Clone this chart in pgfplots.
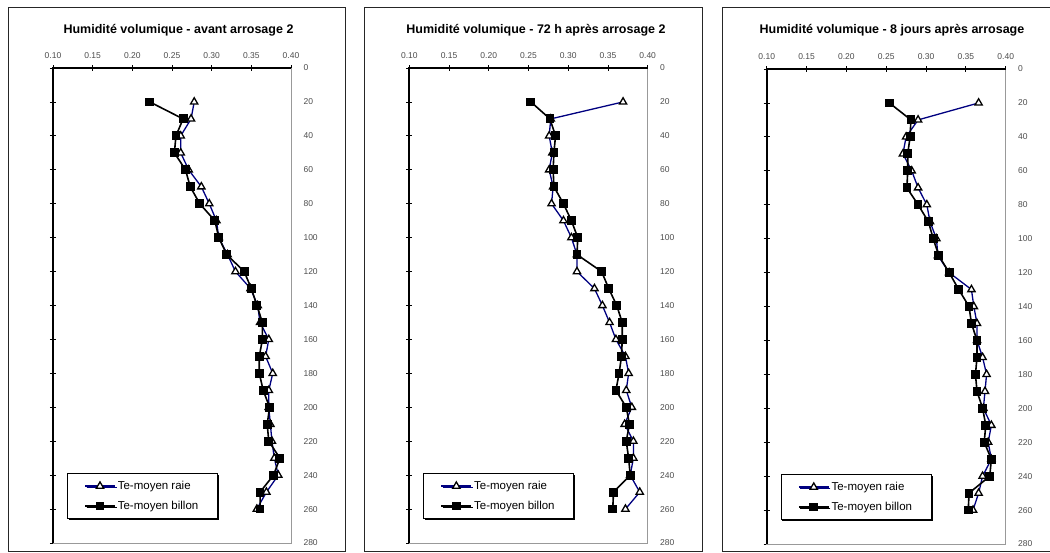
\documentclass[border=0pt]{standalone}
\usepackage{fontspec}
\setmainfont{Liberation Sans}
\usepackage{pgfplots}
\usepackage{pgfplotstable}
\pgfplotsset{compat=1.18}
\usetikzlibrary{shadows}

\definecolor{raie}{HTML}{000080}

\pgfplotstableread{
depth raie billon
20 0.278 0.222
30 0.274 0.264
40 0.261 0.255
50 0.261 0.253
60 0.271 0.267
70 0.287 0.273
80 0.297 0.285
90 0.306 0.304
100 0.309 0.309
110 0.320 0.319
120 0.330 0.341
130 0.349 0.350
140 0.358 0.357
150 0.361 0.364
160 0.372 0.364
170 0.368 0.360
180 0.377 0.360
190 0.372 0.365
200 0.372 0.373
210 0.374 0.370
220 0.376 0.372
230 0.379 0.386
240 0.384 0.378
250 0.369 0.361
260 0.357 0.361
}\tabA

\pgfplotstableread{
depth raie billon
20 0.369 0.253
30 0.278 0.277
40 0.276 0.284
50 0.280 0.282
60 0.276 0.281
70 0.281 0.282
80 0.279 0.294
90 0.294 0.304
100 0.304 0.312
110 0.311 0.311
120 0.311 0.342
130 0.333 0.351
140 0.343 0.361
150 0.352 0.368
160 0.360 0.368
170 0.372 0.367
180 0.376 0.364
190 0.373 0.360
200 0.380 0.373
210 0.371 0.377
220 0.382 0.373
230 0.382 0.376
240 0.378 0.378
250 0.390 0.357
260 0.372 0.356
}\tabB

\pgfplotstableread{
depth raie billon
20 0.366 0.254
30 0.290 0.281
40 0.275 0.280
50 0.271 0.277
60 0.282 0.277
70 0.290 0.276
80 0.301 0.290
90 0.305 0.303
100 0.313 0.309
110 0.315 0.316
120 0.329 0.329
130 0.357 0.341
140 0.360 0.354
150 0.364 0.357
160 0.364 0.364
170 0.371 0.364
180 0.376 0.362
190 0.374 0.364
200 0.372 0.371
210 0.382 0.375
220 0.378 0.373
230 0.382 0.382
240 0.371 0.380
250 0.366 0.354
260 0.359 0.353
}\tabC

\pgfplotsset{
  panel/.style={
    scale only axis,
    height=475pt,
    xmin=0.10, xmax=0.40, ymin=0, ymax=280,
    y dir=reverse,
    xtick={0.10,0.15,0.20,0.25,0.30,0.35,0.40},
    xticklabels={0.10,0.15,0.20,0.25,0.30,0.35,0.40},
    ytick={0,20,...,280},
    xtick pos=right, xticklabel pos=right,
    ytick pos=left, yticklabel pos=right,
    tick align=center,
    major tick length=6pt,
    every tick/.style={black, line width=0.8pt},
    axis line style={draw=gray!80, line width=0.8pt},
    tick label style={font=\fontsize{8.5}{9}\selectfont, text=black!70},
    xticklabel style={yshift=3pt},
    yticklabel style={xshift=6pt},
    /pgf/number format/assume math mode=true,
    clip=false,
    legend cell align=left,
    legend image code/.code={%
      \draw[mark repeat=2,mark phase=2] plot coordinates {(0pt,0pt)(15pt,0pt)(30pt,0pt)};},
    legend style={draw=black, fill=white, line width=0.8pt,
      font=\fontsize{11.5}{13}\selectfont,
      inner xsep=17pt, inner ysep=6pt, row sep=6pt,
      at={(axis description cs:0.058,0.05)}, anchor=south west,
      drop shadow={shadow xshift=1.5pt, shadow yshift=-1.5pt, fill=black, opacity=1}},
  },
  raiestyle/.style={color=raie, line width=1.3pt, mark=triangle*, mark size=4.2pt,
    mark options={fill=white, draw=black, line width=1.3pt, solid}},
  billonstyle/.style={color=black, line width=1.6pt, mark=square*, mark size=3.6pt,
    mark options={fill=black, draw=black, solid}},
}

\begin{document}
\begin{tikzpicture}[x=1pt,y=1pt]
\useasboundingbox (0,0) rectangle (1050,552);
\draw[black!85, line width=0.8pt] (8,1) rectangle (345,545);
\draw[black!85, line width=0.8pt] (364,1) rectangle (702,545);
\draw[black!85, line width=0.8pt] (722,1) rectangle (1062,545);

\node[font=\bfseries\fontsize{12.5}{14}\selectfont] at (178.5,522) {Humidité volumique - avant arrosage 2};
\node[font=\bfseries\fontsize{12.5}{14}\selectfont] at (536,522) {Humidité volumique - 72 h après arrosage 2};
\node[font=\bfseries\fontsize{12.5}{14}\selectfont] at (892,522) {Humidité volumique - 8 jours après arrosage};

\begin{axis}[panel, width=238pt, at={(53pt,9pt)}, anchor=south west]
\addplot[raiestyle] table[x=raie, y=depth] {\tabA};
\addlegendentry{Te-moyen raie}
\addplot[billonstyle] table[x=billon, y=depth] {\tabA};
\addlegendentry{Te-moyen billon}
\draw[black, line width=1.8pt] (axis cs:0.10,280) -- (axis cs:0.10,0) -- (axis cs:0.40,0);
\end{axis}

\begin{axis}[panel, width=238.4pt, at={(409.3pt,9pt)}, anchor=south west]
\addplot[raiestyle] table[x=raie, y=depth] {\tabB};
\addlegendentry{Te-moyen raie}
\addplot[billonstyle] table[x=billon, y=depth] {\tabB};
\addlegendentry{Te-moyen billon}
\draw[black, line width=1.8pt] (axis cs:0.10,280) -- (axis cs:0.10,0) -- (axis cs:0.40,0);
\end{axis}

\begin{axis}[panel, width=239pt, at={(766.7pt,8pt)}, anchor=south west]
\addplot[raiestyle] table[x=raie, y=depth] {\tabC};
\addlegendentry{Te-moyen raie}
\addplot[billonstyle] table[x=billon, y=depth] {\tabC};
\addlegendentry{Te-moyen billon}
\draw[black, line width=1.8pt] (axis cs:0.10,280) -- (axis cs:0.10,0) -- (axis cs:0.40,0);
\end{axis}
\end{tikzpicture}
\end{document}
